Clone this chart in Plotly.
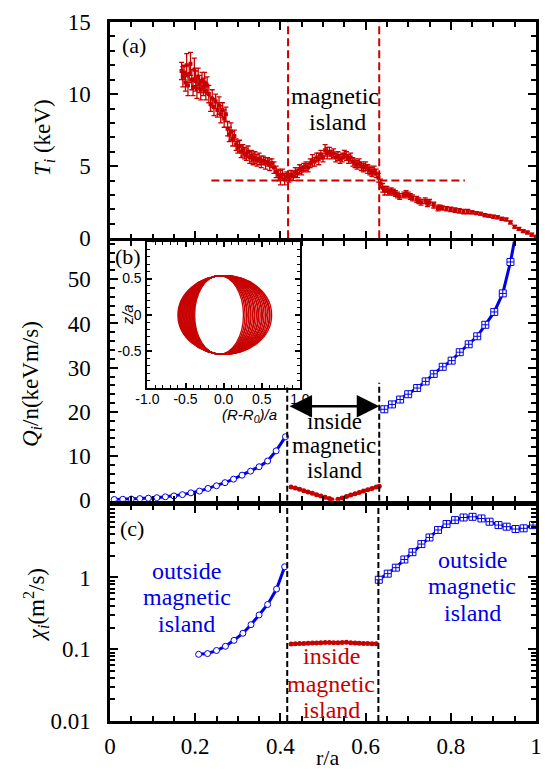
import plotly.graph_objects as go

RED = '#c80000'
BLUE = '#0000e6'
SERIF = "'Liberation Serif', 'Times New Roman', Times, 'DejaVu Serif', serif"
SANS = "'Liberation Sans', Arial, Helvetica, sans-serif"

# ---------------- data ----------------
# panel (a): ion temperature profile
ti_r = [0.168, 0.171, 0.174, 0.177, 0.180, 0.183, 0.186, 0.189, 0.192, 0.195, 0.198, 0.201, 0.204, 0.207,
        0.210, 0.213, 0.216, 0.219, 0.222, 0.225, 0.228, 0.232, 0.236, 0.240, 0.244, 0.248, 0.252, 0.256,
        0.260, 0.264, 0.268, 0.272, 0.276, 0.280, 0.284, 0.288, 0.292, 0.296, 0.300, 0.304, 0.308, 0.312,
        0.316, 0.320, 0.324, 0.328, 0.332, 0.336, 0.340, 0.345, 0.350, 0.355, 0.360, 0.365, 0.370, 0.375,
        0.380, 0.385, 0.390, 0.395, 0.400, 0.405, 0.410, 0.415, 0.420, 0.425, 0.430, 0.435, 0.440, 0.445,
        0.450, 0.455, 0.460, 0.465, 0.470, 0.475, 0.480, 0.485, 0.490, 0.495, 0.500, 0.505, 0.510, 0.515,
        0.520, 0.525, 0.530, 0.535, 0.540, 0.545, 0.550, 0.555, 0.560, 0.565, 0.570, 0.575, 0.580, 0.585,
        0.590, 0.595, 0.600, 0.605, 0.610, 0.615, 0.620, 0.625, 0.630, 0.635, 0.640, 0.645, 0.650, 0.655,
        0.660, 0.665, 0.670, 0.675, 0.680, 0.690, 0.695, 0.700, 0.705, 0.710, 0.720, 0.725, 0.730, 0.740,
        0.745, 0.750, 0.760, 0.770, 0.775, 0.780, 0.790, 0.800, 0.810, 0.820, 0.830, 0.840, 0.850, 0.860,
        0.870, 0.880, 0.890, 0.900, 0.910, 0.920, 0.930, 0.940, 0.950, 0.960, 0.970, 0.980, 0.990, 1.000]
ti_val = [11.6, 11.2, 11.5, 10.8, 12.0, 10.6, 11.4, 12.1, 11.0, 10.5, 11.7, 10.9, 10.4, 11.2,
          10.7, 10.3, 10.9, 10.5, 10.8, 10.2, 10.6, 10.0, 9.3, 9.7, 9.1, 9.5, 8.9, 9.2,
          8.6, 8.9, 8.3, 8.6, 7.6, 7.2, 7.4, 6.9, 7.1, 6.5, 6.3, 6.4, 6.0, 6.1,
          5.9, 5.8, 6.0, 5.6, 5.7, 5.5, 5.6, 5.4, 5.5, 5.3, 5.4, 5.2, 5.3, 5.1,
          5.2, 4.9, 4.6, 4.4, 4.2, 4.4, 4.1, 4.3, 4.2, 4.4, 4.3, 4.6, 4.5, 4.8,
          4.7, 4.9, 5.0, 4.9, 5.2, 5.4, 5.3, 5.6, 5.5, 5.8, 5.6, 6.1, 5.9, 6.0,
          5.8, 5.9, 5.6, 5.7, 5.5, 5.6, 5.8, 5.7, 5.5, 5.6, 5.3, 5.2, 5.1, 5.2,
          5.0, 4.9, 5.0, 4.8, 4.7, 4.6, 4.7, 4.5, 4.2, 3.8, 3.5, 3.3, 3.4, 3.2,
          3.3, 3.2, 3.1, 3.0, 2.9, 3.0, 3.1, 3.0, 2.9, 2.8, 2.7, 2.6, 2.5, 2.6,
          2.4, 2.5, 2.3, 2.1, 2.15, 2.1, 2.05, 2.0, 1.95, 1.9, 1.85, 1.85, 1.8, 1.75,
          1.7, 1.6, 1.55, 1.5, 1.45, 1.35, 1.3, 1.1, 0.8, 0.65, 0.5, 0.4, 0.25, 0.1]
ti_err = [0.6, 0.7, 0.5, 0.6, 0.8, 0.7, 0.6, 0.8, 0.7, 0.6, 0.8, 0.7, 0.7, 0.6,
          0.6, 0.7, 0.6, 0.6, 0.7, 0.6, 0.6, 0.6, 0.5, 0.6, 0.6, 0.5, 0.5, 0.6,
          0.6, 0.5, 0.6, 0.5, 0.5, 0.5, 0.6, 0.5, 0.4, 0.4, 0.4, 0.4, 0.4, 0.4,
          0.4, 0.4, 0.4, 0.4, 0.4, 0.4, 0.4, 0.4, 0.4, 0.4, 0.3, 0.4, 0.3, 0.4,
          0.3, 0.4, 0.4, 0.4, 0.5, 0.4, 0.4, 0.3, 0.3, 0.3, 0.3, 0.3, 0.3, 0.3,
          0.3, 0.3, 0.3, 0.3, 0.3, 0.4, 0.3, 0.3, 0.4, 0.3, 0.3, 0.4, 0.4, 0.3,
          0.3, 0.3, 0.3, 0.3, 0.3, 0.3, 0.3, 0.3, 0.3, 0.3, 0.3, 0.3, 0.3, 0.3,
          0.3, 0.3, 0.3, 0.3, 0.3, 0.3, 0.3, 0.3, 0.3, 0.3, 0.3, 0.3, 0.2, 0.2,
          0.2, 0.2, 0.2, 0.2, 0.2, 0.2, 0.2, 0.2, 0.2, 0.2, 0.2, 0.2, 0.2, 0.2,
          0.2, 0.2, 0.2, 0.2, 0.15, 0.15, 0.15, 0.15, 0.15, 0.15, 0.15, 0.15, 0.1, 0.1,
          0.1, 0.1, 0.1, 0.1, 0.1, 0.1, 0.1, 0.1, 0.1, 0.1, 0.1, 0.1, 0.1, 0.1]

island_inner = 0.418
island_outer = 0.632
ti_flat_level = 4.0
ti_flat_r = [0.238, 0.833]

# panel (b): heat flux Q_i/n
qb_left_r = [0.010, 0.030, 0.050, 0.070, 0.090, 0.110, 0.130, 0.150, 0.170, 0.190, 0.210,
             0.230, 0.250, 0.270, 0.290, 0.310, 0.330, 0.350, 0.370, 0.390, 0.412]
qb_left = [0.2, 0.25, 0.3, 0.4, 0.5, 0.6, 0.8, 1.0, 1.3, 1.7, 2.1,
           2.7, 3.3, 4.0, 4.8, 5.7, 6.6, 7.6, 8.9, 11.2, 14.4]
qb_right_r = [0.644, 0.662, 0.681, 0.700, 0.721, 0.741, 0.760, 0.781, 0.802, 0.821, 0.842,
              0.862, 0.881, 0.902, 0.922, 0.940]
qb_right = [20.6, 21.7, 22.8, 24.0, 25.4, 26.9, 28.6, 30.2, 31.6, 33.5, 35.3,
            37.1, 39.7, 42.6, 46.8, 53.9]
qb_right_exit_r = [0.940, 0.956]
qb_right_exit = [53.9, 62.0]
qb_in1_r = [0.425, 0.435, 0.445, 0.455, 0.465, 0.475, 0.485, 0.495, 0.505, 0.515, 0.521]
qb_in1 = [3.0, 2.8, 2.5, 2.2, 1.9, 1.6, 1.3, 1.0, 0.7, 0.4, 0.15]
qb_in2_r = [0.535, 0.545, 0.555, 0.565, 0.575, 0.585, 0.595, 0.605, 0.615, 0.625, 0.632]
qb_in2 = [0.25, 0.55, 0.85, 1.2, 1.5, 1.8, 2.1, 2.4, 2.7, 3.0, 3.2]
arrow_q = 21.3

# panel (c): diffusivity chi_i
chi_left_r = [0.208, 0.229, 0.250, 0.271, 0.291, 0.312, 0.331, 0.350, 0.370, 0.391, 0.410]
chi_left = [0.085, 0.087, 0.096, 0.11, 0.133, 0.167, 0.22, 0.30, 0.42, 0.69, 1.41]
chi_in_r = [0.425, 0.435, 0.445, 0.455, 0.465, 0.475, 0.485, 0.495, 0.505, 0.515, 0.525,
            0.535, 0.545, 0.555, 0.565, 0.575, 0.585, 0.595, 0.605, 0.615, 0.625]
chi_in = [0.118, 0.119, 0.120, 0.120, 0.121, 0.122, 0.122, 0.123, 0.124, 0.124, 0.123,
          0.123, 0.124, 0.125, 0.123, 0.122, 0.121, 0.120, 0.120, 0.119, 0.119]
chi_right_r = [0.631, 0.652, 0.671, 0.691, 0.710, 0.731, 0.750, 0.770, 0.790, 0.810, 0.830,
               0.851, 0.872, 0.891, 0.912, 0.931, 0.952, 0.971, 0.993]
chi_right = [0.93, 1.13, 1.37, 1.78, 2.25, 2.92, 3.61, 4.59, 5.55, 6.3, 6.85,
             7.0, 6.64, 5.98, 5.37, 5.1, 4.73, 4.84, 5.37]

# inset: flux-surface contours (left and right extents, half height)
inset_left_w = [0.38, 0.39, 0.40, 0.41, 0.42, 0.43, 0.44, 0.45, 0.46, 0.47, 0.48, 0.49,
                0.50, 0.51, 0.52, 0.53, 0.54, 0.55, 0.56, 0.57, 0.58, 0.59, 0.60]
inset_right_w = [0.26, 0.28, 0.30, 0.31, 0.33, 0.35, 0.36, 0.38, 0.40, 0.41, 0.43, 0.45,
                 0.46, 0.48, 0.50, 0.51, 0.53, 0.55, 0.56, 0.58, 0.60, 0.61, 0.63]
inset_half_h = 0.54

x_ticks = [0, 0.2, 0.4, 0.6, 0.8, 1.0]
x_ticktext = ['0', '0.2', '0.4', '0.6', '0.8', '1']

# ---------------- figure ----------------
fig = go.Figure()

# (a)
fig.add_trace(go.Scatter(x=ti_r, y=ti_val, mode='markers', xaxis='x3', yaxis='y3',
                         marker=dict(symbol='square', size=4, color=RED),
                         error_y=dict(type='data', array=ti_err, color=RED, thickness=1.3, width=2.5)))

# (b)
circ = dict(symbol='circle', size=6, color='white', line=dict(color=BLUE, width=1))
sqx = dict(symbol='square-cross', size=7, color='white', line=dict(color=BLUE, width=1))
redm = dict(symbol='circle', size=5, color=RED)
fig.add_trace(go.Scatter(x=qb_left_r, y=qb_left, mode='lines+markers', xaxis='x2', yaxis='y2',
                         line=dict(color=BLUE, width=3), marker=circ))
fig.add_trace(go.Scatter(x=qb_right_exit_r, y=qb_right_exit, mode='lines', xaxis='x2', yaxis='y2',
                         line=dict(color=BLUE, width=3)))
fig.add_trace(go.Scatter(x=qb_right_r, y=qb_right, mode='lines+markers', xaxis='x2', yaxis='y2',
                         line=dict(color=BLUE, width=3), marker=sqx))
fig.add_trace(go.Scatter(x=qb_in1_r, y=qb_in1, mode='lines+markers', xaxis='x2', yaxis='y2',
                         line=dict(color=RED, width=3), marker=redm))
fig.add_trace(go.Scatter(x=qb_in2_r, y=qb_in2, mode='lines+markers', xaxis='x2', yaxis='y2',
                         line=dict(color=RED, width=3), marker=redm))

# (c)
fig.add_trace(go.Scatter(x=chi_left_r, y=chi_left, mode='lines+markers', xaxis='x', yaxis='y',
                         line=dict(color=BLUE, width=3), marker=circ))
fig.add_trace(go.Scatter(x=chi_in_r, y=chi_in, mode='lines+markers', xaxis='x', yaxis='y',
                         line=dict(color=RED, width=3), marker=redm))
fig.add_trace(go.Scatter(x=chi_right_r, y=chi_right, mode='lines+markers', xaxis='x', yaxis='y',
                         line=dict(color=BLUE, width=3), marker=sqx))

# inset placeholder trace so the axes render
fig.add_trace(go.Scatter(x=[0], y=[0], mode='markers', xaxis='x4', yaxis='y4',
                         marker=dict(size=0.1, color='rgba(0,0,0,0)'), hoverinfo='skip'))

tickfont = dict(family=SERIF, size=23, color='black')
minor_x = dict(ticks='inside', dtick=0.05, tick0=0, ticklen=5, tickwidth=1.5, tickcolor='black')
base_x = dict(range=[0, 1], showline=True, linewidth=2.5, linecolor='black', mirror='ticks',
              ticks='inside', ticklen=8, tickwidth=2, tickcolor='black', tickmode='array',
              tickvals=x_ticks, ticktext=x_ticktext, minor=minor_x, showgrid=False, zeroline=False,
              tickfont=tickfont)
base_y = dict(showline=True, linewidth=2.5, linecolor='black', mirror='ticks', ticks='inside',
              ticklen=8, tickwidth=2, tickcolor='black', showgrid=False, zeroline=False,
              tickfont=tickfont, ticklabelstandoff=12)

log_minor = [m * 10 ** e for e in (-2, -1, 0) for m in range(2, 10)]
inset_font = dict(family=SANS, size=14, color='black')

fig.update_layout(
    width=556, height=771,
    margin=dict(l=110, r=13, t=10, b=50),
    paper_bgcolor='white', plot_bgcolor='white',
    showlegend=False,
    font=dict(family=SERIF, color='black'),
    xaxis=dict(base_x, anchor='y', ticklabelstandoff=3),
    xaxis2=dict(base_x, anchor='y2', showticklabels=False),
    xaxis3=dict(base_x, anchor='y3', showticklabels=False),
    yaxis=dict(base_y, anchor='x', domain=[0, 0.3080], type='log', range=[-2, 1],
               tickmode='array', tickvals=[0.01, 0.1, 1], ticktext=['0.01', '0.1', '1'],
               minor=dict(ticks='inside', tickmode='array', tickvals=log_minor, ticklen=5,
                          tickwidth=1.5, tickcolor='black')),
    yaxis2=dict(base_y, anchor='x2', domain=[0.3150, 0.6864], range=[-0.1, 58.6],
                tickmode='array', tickvals=[0, 10, 20, 30, 40, 50],
                minor=dict(ticks='inside', dtick=2, tick0=0, ticklen=5, tickwidth=1.5, tickcolor='black')),
    yaxis3=dict(base_y, anchor='x3', domain=[0.6906, 1.0], range=[0, 15],
                tickmode='array', tickvals=[0, 5, 10, 15],
                minor=dict(ticks='inside', dtick=1, tick0=0, ticklen=5, tickwidth=1.5, tickcolor='black')),
    xaxis4=dict(domain=[0.0878, 0.4457], anchor='y4', range=[-1, 1], showline=True, linewidth=2,
                linecolor='black', mirror='ticks', ticks='inside', ticklen=5, tickwidth=1.5,
                tickcolor='black', tickmode='array', tickvals=[-1, -0.5, 0, 0.5, 1],
                ticktext=['-1.0', '-0.5', '0.0', '0.5', '1.0'],
                tickfont=inset_font, ticklabelstandoff=-3,
                minor=dict(ticks='inside', dtick=0.1, tick0=0, ticklen=3, tickwidth=1, tickcolor='black'),
                showgrid=False, zeroline=False),
    yaxis4=dict(domain=[0.4768, 0.6850], anchor='x4', range=[-1, 1], showline=True, linewidth=2,
                linecolor='black', mirror='ticks', ticks='inside', ticklen=5, tickwidth=1.5,
                tickcolor='black', tickmode='array', tickvals=[-0.5, 0, 0.5],
                ticktext=['-0.5', '0', '0.5'],
                tickfont=inset_font, ticklabelstandoff=1,
                minor=dict(ticks='inside', dtick=0.1, tick0=0, ticklen=3, tickwidth=1, tickcolor='black'),
                showgrid=False, zeroline=False),
)

shapes = []
red_dash = dict(color=RED, width=2, dash='8px,4px')
blk_dash = dict(color='black', width=2, dash='6px,3px')
for xv in (island_inner, island_outer):
    shapes.append(dict(type='line', xref='x3', yref='y3 domain', x0=xv, x1=xv, y0=0, y1=1, line=red_dash))
    shapes.append(dict(type='line', xref='x', yref='y domain', x0=xv - 0.002, x1=xv - 0.002, y0=0, y1=1,
                       line=blk_dash))
shapes.append(dict(type='line', xref='x3', yref='y3', x0=ti_flat_r[0], x1=ti_flat_r[1],
                   y0=ti_flat_level, y1=ti_flat_level, line=red_dash))
shapes.append(dict(type='line', xref='x2', yref='y2', x0=island_inner - 0.002, x1=island_inner - 0.002,
                   y0=-0.1, y1=25.5, line=blk_dash))
shapes.append(dict(type='line', xref='x2', yref='y2', x0=island_outer, x1=island_outer,
                   y0=-0.1, y1=26.6, line=blk_dash))
for wl, wr in zip(inset_left_w, inset_right_w):
    shapes.append(dict(type='circle', xref='x4', yref='y4', x0=-wl, x1=wr,
                       y0=-inset_half_h, y1=inset_half_h, line=dict(color=RED, width=1.3)))
fig.update_layout(shapes=shapes)


def yp(px):
    return (721 - px) / 711


def xp(px):
    return (px - 110) / 433


ann = []


def txt(text, x, y, color='black', size=23, **kw):
    ann.append(dict(text=text, x=x, y=y, xref='paper', yref='paper', showarrow=False,
                    xanchor='center', yanchor='middle',
                    font=dict(family=SERIF, size=size, color=color), **kw))


txt('(a)', xp(134), yp(34), size=22)
txt('magnetic', xp(339), yp(85), size=24)
txt('island', xp(341), yp(112), size=24)
txt('(b)', xp(128), yp(249), size=22)
txt('inside', xp(338), yp(416), size=23)
txt('magnetic', xp(338), yp(441), size=23)
txt('island', xp(338), yp(466), size=23)
txt('(c)', xp(132), yp(525), size=22)
for s, y in (('outside', 568), ('magnetic', 595), ('island', 622)):
    txt(s, xp(188), yp(y), color=BLUE, size=24)
for s, y in (('outside', 557), ('magnetic', 584), ('island', 611)):
    txt(s, xp(478), yp(y), color=BLUE, size=24)
for s, y in (('inside', 655), ('magnetic', 683), ('island', 710)):
    txt(s, xp(335), yp(y), color=RED, size=24)

# axis titles
txt('<i>T<sub>i</sub></i> (keV)', xp(43), yp(128), textangle=-90)
txt('<i>Q<sub>i</sub></i>/n(keVm/s)', xp(30), yp(378), textangle=-90)
txt('<i>χ<sub>i</sub></i>(m<sup>2</sup>/s)', xp(35), yp(603), textangle=-90)
txt('r/a', 0.51, yp(758), size=22)

# inset titles
ann.append(dict(text='<i>z/a</i>', x=xp(118), y=yp(308), xref='paper', yref='paper', showarrow=False,
                textangle=-90, font=dict(family=SANS, size=15, color='black')))
ann.append(dict(text='<i>(R-R<sub>0</sub>)/a</i>', x=xp(222), y=yp(410), xref='paper', yref='paper',
                showarrow=False, font=dict(family=SANS, size=15, color='black')))

# double arrow
ann.append(dict(text='', x=island_outer, y=arrow_q, xref='x2', yref='y2', ax=island_inner, ay=arrow_q,
                axref='x2', ayref='y2', showarrow=True, arrowhead=2, arrowside='end+start',
                arrowsize=1.8, arrowwidth=2.5, arrowcolor='black'))

fig.update_layout(annotations=ann)
fig.write_html('out.html')
